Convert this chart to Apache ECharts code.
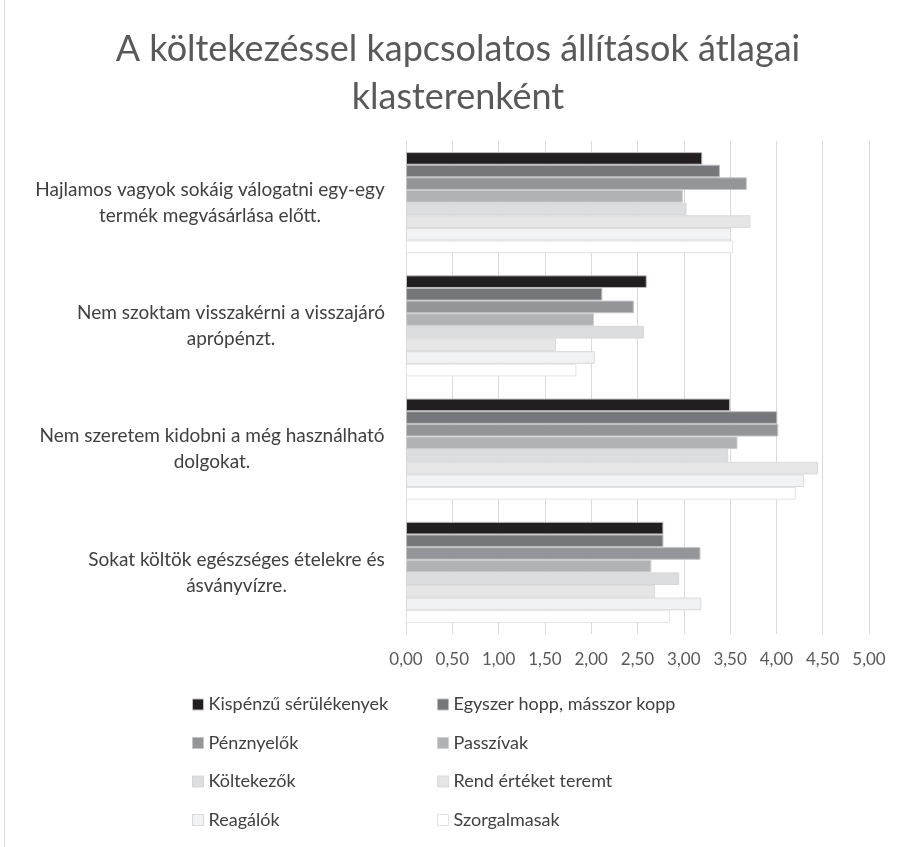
<!DOCTYPE html>
<html><head><meta charset="utf-8">
<script src="https://cdn.jsdelivr.net/npm/echarts@6/dist/echarts.min.js"></script>
<style>html,body{margin:0;padding:0;background:#fff}#c{width:904px;height:847px}</style>
</head><body><div id="c"></div>
<script>
const categories = [
  "Hajlamos vagyok sokáig válogatni egy-egy\ntermék megvásárlása előtt.",
  "Nem szoktam visszakérni a visszajáró\naprópénzt.",
  "Nem szeretem kidobni a még használható\ndolgokat.",
  "Sokat költök egészséges ételekre és\násványvízre."
];
const seriesNames = ["Kispénzű sérülékenyek","Egyszer hopp, másszor kopp","Pénznyelők","Passzívak","Költekezők","Rend értéket teremt","Reagálók","Szorgalmasak"];
const kispenzu   = [3.20, 2.60, 3.50, 2.78];
const egyszer    = [3.39, 2.12, 4.01, 2.78];
const penznyelok = [3.68, 2.46, 4.02, 3.18];
const passzivak  = [2.99, 2.03, 3.58, 2.65];
const koltekezok = [3.03, 2.57, 3.48, 2.95];
const rend       = [3.72, 1.62, 4.45, 2.69];
const reagalok   = [3.51, 2.04, 4.30, 3.19];
const szorgalmas = [3.53, 1.84, 4.21, 2.85];
const xTicks = ["0,00","0,50","1,00","1,50","2,00","2,50","3,00","3,50","4,00","4,50","5,00"];

const values = [kispenzu, egyszer, penznyelok, passzivak, koltekezok, rend, reagalok, szorgalmas];
const colors = ["#231f20","#76777a","#939598","#b1b2b4","#dcdddf","#e6e6e6","#f1f2f3","#ffffff"];
const borders = ["#bdbdbd","#bdbdbd","#c4c4c4","#cfcfcf","#d6d6d6","#dadada","#d9d9d9","#e3e3e3"];
const FONT = "Lato";
const LBL = 19;

const cv = document.createElement('canvas').getContext('2d');
cv.font = LBL + 'px ' + FONT;
const rich = {};
categories.forEach((c, i) => {
  const w = Math.max(...c.split('\n').map(l => cv.measureText(l).width));
  rich['c' + i] = {width: Math.ceil(w) + 2, align: 'center', fontFamily: FONT, fontSize: LBL, color: '#404040', lineHeight: 26};
});

const chart = echarts.init(document.getElementById('c'), null, {renderer: 'canvas'});
const series = seriesNames.map((n, i) => ({
  name: n, type: 'bar', data: values[i],
  barGap: '0%', barCategoryGap: '18%',
  itemStyle: {color: colors[i], borderColor: borders[i], borderWidth: 1},
  emphasis: {disabled: true}, animation: false
}));
const legendBase = {
  orient: 'vertical', icon: 'rect', itemWidth: 11, itemHeight: 11, itemGap: 18.5, padding: 0,
  textStyle: {fontFamily: FONT, fontSize: 18, color: '#404040', lineHeight: 20},
  selectedMode: false
};
chart.setOption({
  animation: false,
  title: {
    text: "A költekezéssel kapcsolatos állítások átlagai\nklasterenként",
    left: 453, top: 20, textAlign: 'center',
    textStyle: {fontFamily: FONT, fontSize: 36, fontWeight: 'normal', color: '#595959', lineHeight: 48}
  },
  legend: [
    Object.assign({}, legendBase, {left: 192, top: 694.5, data: [0,2,4,6].map(i => ({name: seriesNames[i], itemStyle: {borderColor: borders[i], borderWidth: 1}}))}),
    Object.assign({}, legendBase, {left: 437, top: 694.5, data: [1,3,5,7].map(i => ({name: seriesNames[i], itemStyle: {borderColor: borders[i], borderWidth: 1}}))})
  ],
  grid: {left: 406, right: 35, top: 141, bottom: 213, containLabel: false},
  xAxis: {
    type: 'value', min: 0, max: 5, interval: 0.5,
    axisLine: {show: false}, axisTick: {show: false},
    splitLine: {lineStyle: {color: '#d9d9d9', width: 1}},
    axisLabel: {margin: 17, fontFamily: FONT, fontSize: 17, color: '#595959',
      formatter: (v) => xTicks[Math.round(v / 0.5)]}
  },
  yAxis: {
    type: 'category', data: categories, inverse: true,
    axisLine: {show: true, lineStyle: {color: '#d9d9d9'}}, axisTick: {show: false},
    axisLabel: {margin: 20, align: 'right',
      formatter: (v, i) => v.split('\n').map(l => '{c' + i + '|' + l + '}').join('\n'),
      rich: rich}
  },
  series: series,
  graphic: [{type: 'line', shape: {x1: 4.5, y1: 0, x2: 4.5, y2: 847}, style: {stroke: '#d9d9d9', lineWidth: 1}, silent: true}]
});
</script></body></html>
